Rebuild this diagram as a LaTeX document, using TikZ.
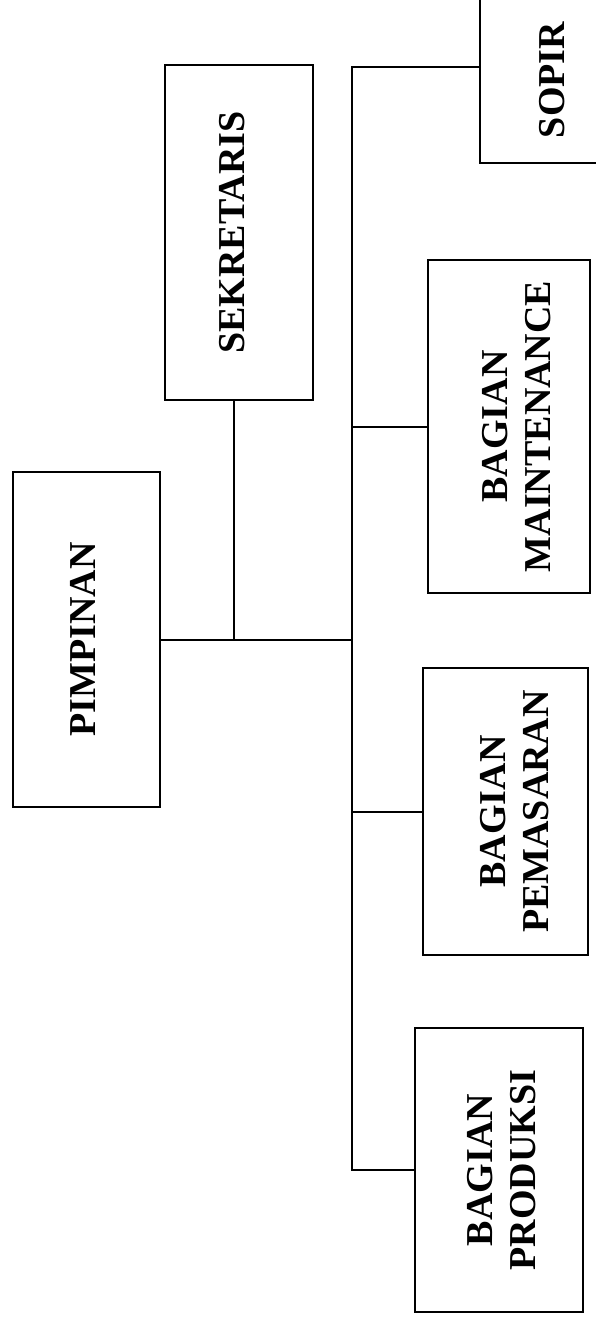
\documentclass[tikz,border=0pt]{standalone}
\usepackage{fontspec}
\setmainfont{Liberation Serif}
\usepackage{graphicx}
\usetikzlibrary{calc, positioning}
\newcommand{\vlabel}[2][0pt]{\hspace*{#1}\rotatebox{90}{\begin{tabular}{@{}c@{}}#2\end{tabular}}}

\begin{document}
\begin{tikzpicture}[x=1pt, y=1pt, line width=2pt,
  unit/.style={draw, inner sep=0pt, font=\bfseries\fontsize{38}{43}\selectfont}]
\useasboundingbox (0,0) rectangle (595,-1321);
% boxes
\node[unit, minimum width=147pt, minimum height=335pt] (pimpinan) at (86.5,-639.5) {\vlabel{PIMPINAN}};
\node[unit, minimum width=148pt, minimum height=335pt] (sekretaris) at (239,-232.5) {\vlabel[-6pt]{SEKRETARIS}};
\node[unit, minimum width=152pt, minimum height=166pt] (sopir) at (556,-80) {\vlabel{SOPIR}};
\node[unit, minimum width=162pt, minimum height=333pt] (maint) at (509,-426.5) {\vlabel[22pt]{BAGIAN\\MAINTENANCE}};
\node[unit, minimum width=165pt, minimum height=287pt] (pemasaran) at (505.5,-811.5) {\vlabel[26pt]{BAGIAN\\PEMASARAN}};
\node[unit, minimum width=168pt, minimum height=284pt] (produksi) at (499,-1170) {\vlabel[12pt]{BAGIAN\\PRODUKSI}};
% trunk
\coordinate (trunk) at (352,-67);
\draw (sopir.west |- trunk) -- (trunk) -- (trunk |- produksi.west) -- (produksi.west);
\draw (pimpinan.east) -- (pimpinan.east -| trunk);
\draw ([xshift=-5pt]sekretaris.south) -- ([xshift=-5pt]sekretaris.south |- pimpinan.east);
\foreach \n in {maint, pemasaran}
  \draw (\n.west) -- (\n.west -| trunk);
\end{tikzpicture}
\end{document}
